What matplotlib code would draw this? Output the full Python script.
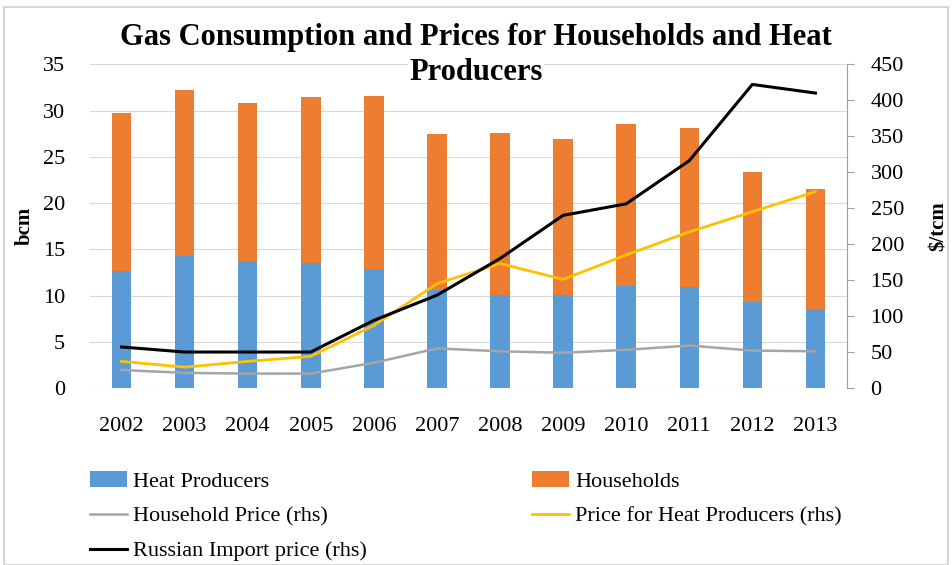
import matplotlib.pyplot as plt
import numpy as np
from matplotlib.patches import Rectangle

plt.rcParams['font.family'] = ['Liberation Serif', 'DejaVu Serif']

years = ['2002', '2003', '2004', '2005', '2006', '2007',
         '2008', '2009', '2010', '2011', '2012', '2013']
heat_producers = [12.7, 14.3, 13.7, 13.5, 12.9, 10.6, 10.1, 10.1, 11.0, 10.9, 9.3, 8.5]
households = [17.0, 17.9, 17.1, 18.0, 18.7, 16.9, 17.5, 16.8, 17.5, 17.2, 14.1, 13.0]
household_price = [25, 21, 20, 20, 35, 55, 51, 49, 53, 59, 52, 51]
heat_price = [37, 29, 37, 44, 87, 145, 173, 151, 185, 217, 245, 273]
russian_price = [57, 50, 50, 50, 94, 129, 180, 240, 256, 316, 422, 410]

BLUE = '#5B9BD5'
ORANGE = '#ED7D31'
GRAY = '#A5A5A5'
YELLOW = '#FFC000'

fig = plt.figure(figsize=(9.52, 5.65), dpi=100)
ax = fig.add_axes([0.0945, 0.3133, 0.7952, 0.5729])
x = np.arange(len(years))

b1 = ax.bar(x, heat_producers, width=0.31, color=BLUE, zorder=2, label='Heat Producers')
b2 = ax.bar(x, households, width=0.31, bottom=heat_producers, color=ORANGE, zorder=2,
            label='Households')
ax.set_xlim(-0.5, 11.5)
ax.set_ylim(0, 35)
ax.set_yticks(range(0, 36, 5))
ax.yaxis.grid(True, color='#D9D9D9', linewidth=0.8, zorder=0)
ax.set_axisbelow(True)
for s in ax.spines.values():
    s.set_visible(False)
ax.tick_params(axis='y', length=0, pad=18, labelsize=16)
ax.tick_params(axis='x', length=0, pad=21, labelsize=16)
ax.set_xticks(x)
ax.set_xticklabels(years)
ax.set_ylabel('bcm', fontsize=15, fontweight='bold', labelpad=6)

ax2 = ax.twinx()
l1, = ax2.plot(x, household_price, color=GRAY, linewidth=1.8, label='Household Price (rhs)')
l2, = ax2.plot(x, heat_price, color=YELLOW, linewidth=2.0, label='Price for Heat Producers (rhs)')
l3, = ax2.plot(x, russian_price, color='black', linewidth=2.2, label='Russian Import price (rhs)')
ax2.set_ylim(0, 450)
ax2.set_yticks(range(0, 451, 50))
for s in ['top', 'left', 'bottom']:
    ax2.spines[s].set_visible(False)
ax2.spines['right'].set_color('#A0A0A0')
ax2.tick_params(axis='y', length=5, color='#A0A0A0', pad=12, labelsize=16)
ax2.set_ylabel('\\$/tcm', fontsize=15, fontweight='bold', labelpad=18)

# title in two pieces so the white box of line 2 stays narrow
title_kw = dict(ha='center', va='baseline', fontsize=22, fontweight='bold',
                bbox=dict(facecolor='white', edgecolor='none', pad=1), zorder=5)
fig.text(0.5, 0.921, 'Gas Consumption and Prices for Households and Heat', **title_kw)
fig.text(0.5, 0.859, 'Producers', **title_kw)

leg_kw = dict(frameon=False, fontsize=16, handlelength=1.66, handletextpad=0.27,
              labelspacing=0.64, borderaxespad=0, borderpad=0)
fig.legend([b1, l1, l3], ['Heat Producers', 'Household Price (rhs)', 'Russian Import price (rhs)'],
           loc='upper left', bbox_to_anchor=(0.0945, 0.166), **leg_kw)
fig.legend([b2, l2], ['Households', 'Price for Heat Producers (rhs)'],
           loc='upper left', bbox_to_anchor=(0.559, 0.166), **leg_kw)

fig.patches.append(Rectangle((0.004, 0.0), 0.992, 0.988, transform=fig.transFigure,
                             fill=False, edgecolor='#D0D0D0', linewidth=1.2))

fig.savefig('out.png', dpi=100)
